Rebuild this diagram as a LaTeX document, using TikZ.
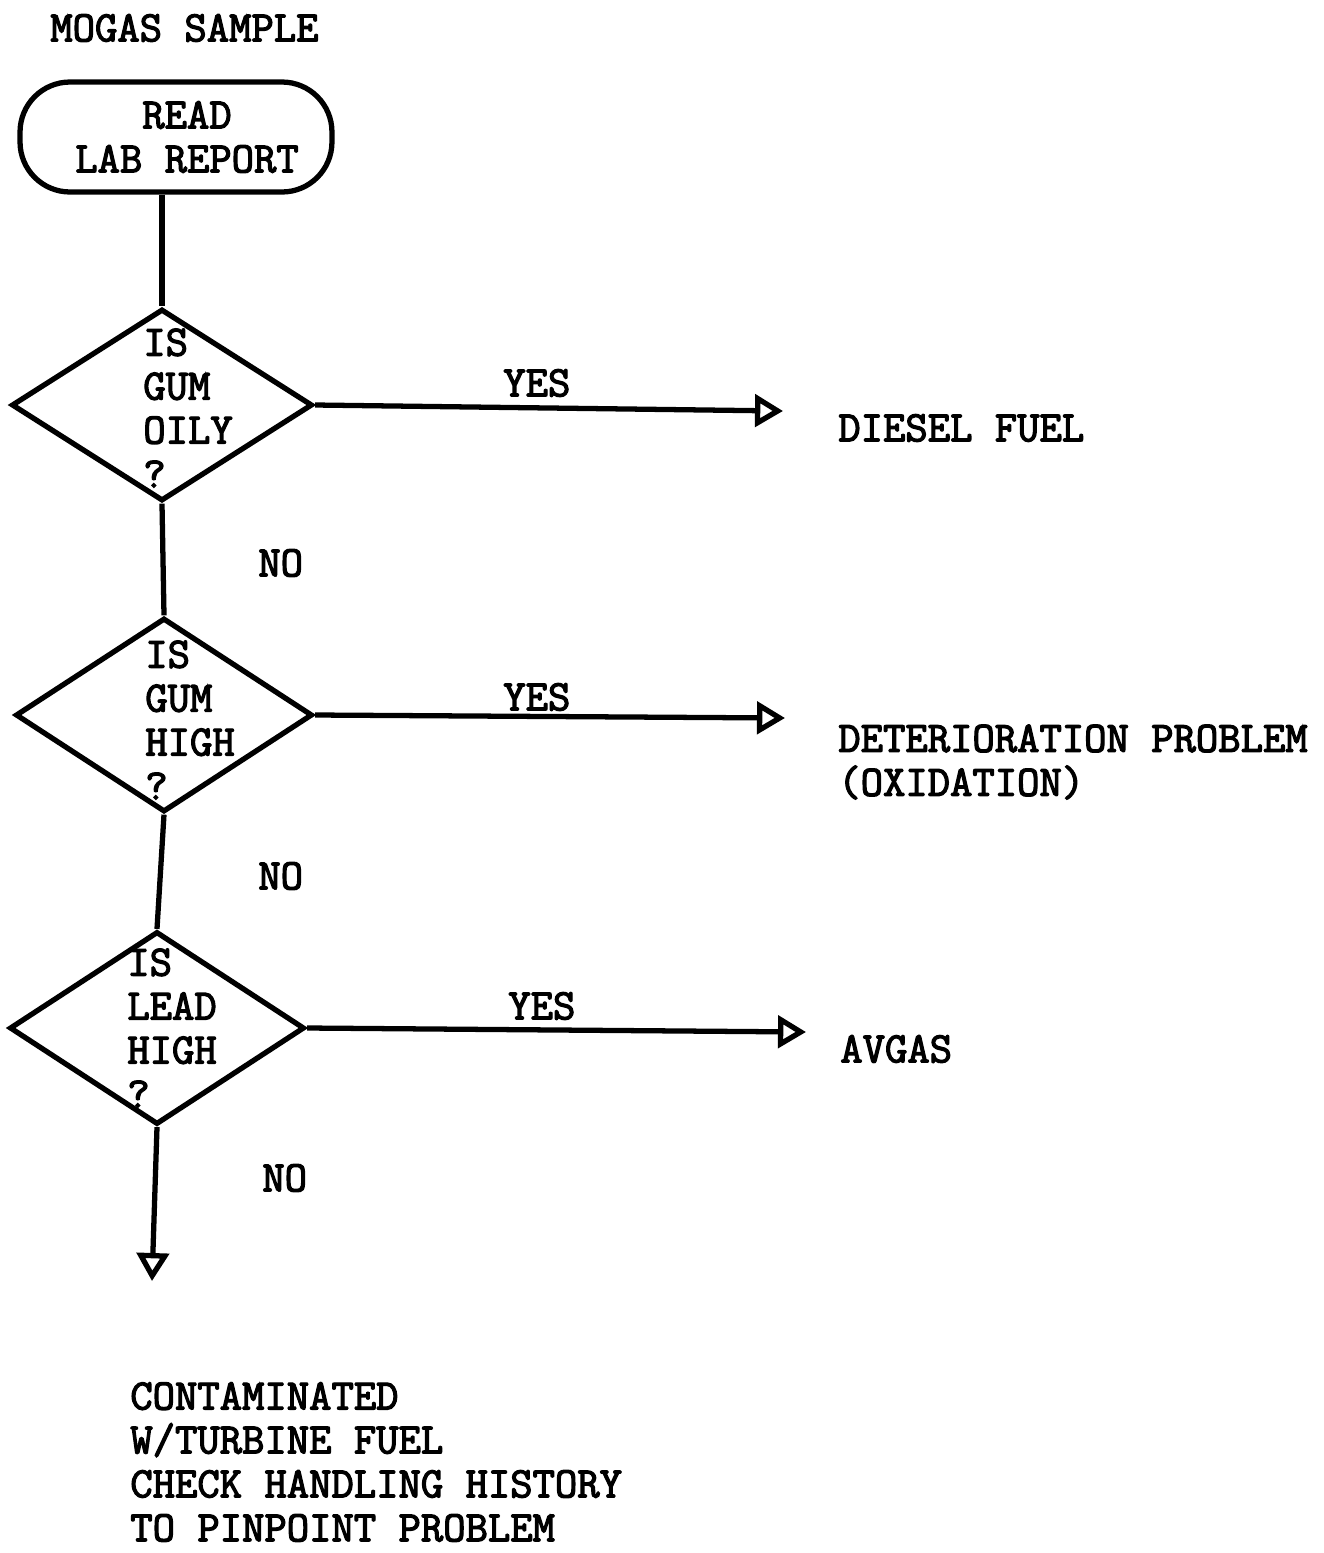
\documentclass[tikz,border=0pt]{standalone}
\usepackage{fontspec}
\newfontfamily\twfont{Latin Modern Mono}
\newcommand\inkheavy{\special{pdf:literal direct 2 Tr 0.7 w}}
\usetikzlibrary{shapes.geometric,arrows.meta}
\begin{document}
\begin{tikzpicture}[x=0.02cm,y=-0.02cm,
  every node/.style={font=\twfont\fontsize{24.7pt}{25pt}\selectfont\inkheavy, inner sep=0pt},
  txt/.style={anchor=west, align=left},
  term/.style={draw, line width=3pt, rounded corners=1cm, minimum width=6.24cm, minimum height=2.2cm, align=center},
  decision/.style={draw, diamond, line width=3pt},
  conn/.style={line width=3pt},
  arr/.style={line width=3pt, -{Triangle[open, length=0.56cm, width=0.64cm]}}
]
\useasboundingbox (0,0) rectangle (1323,1553);

\node[txt] (title) at (50,28) {MOGAS SAMPLE};

\node[term] (read) at (176,137) {\hspace*{0.44cm}READ\\\hspace*{0.44cm}LAB REPORT};

\node[decision, minimum width=6.02cm, minimum height=3.84cm] (d1) at (162,405) {};
\node[txt] (d1t) at (143,408) {IS\\GUM\\OILY\\?};

\node[decision, minimum width=5.94cm, minimum height=3.88cm] (d2) at (164,715) {};
\node[txt] (d2t) at (145,720) {IS\\GUM\\HIGH\\?};

\node[decision, minimum width=5.9cm, minimum height=3.86cm] (d3) at (157,1028) {};
\node[txt] (d3t) at (127,1028) {IS\\LEAD\\HIGH\\?};

\coordinate (t1) at (783,411);
\coordinate (t2) at (785,718);
\coordinate (t3) at (806,1032);
\coordinate (t4) at (152,1281);

\node[txt] (yes1) at (503,383) {YES};
\node[txt] (yes2) at (503,697) {YES};
\node[txt] (yes3) at (508,1006) {YES};
\node[txt] (no1) at (258,563) {NO};
\node[txt] (no2) at (258,876) {NO};
\node[txt] (no3) at (262,1178) {NO};

\node[txt] (diesel) at (838,428) {DIESEL FUEL};
\node[txt] (deter) at (838,762) {DETERIORATION PROBLEM\\(OXIDATION)};
\node[txt] (avgas) at (840,1049) {AVGAS};
\node[txt] (contam) at (130,1462) {CONTAMINATED\\W/TURBINE FUEL\\CHECK HANDLING HISTORY\\TO PINPOINT PROBLEM};

\draw[conn] (read.south -| d1.north) -- (d1.north);
\draw[conn] (d1.south) -- (d2.north);
\draw[conn] (d2.south) -- (d3.north);
\draw[arr] (d3.south) -- (t4);
\draw[arr] (d1.east) -- (t1);
\draw[arr] (d2.east) -- (t2);
\draw[arr] (d3.east) -- (t3);
\end{tikzpicture}
\end{document}
